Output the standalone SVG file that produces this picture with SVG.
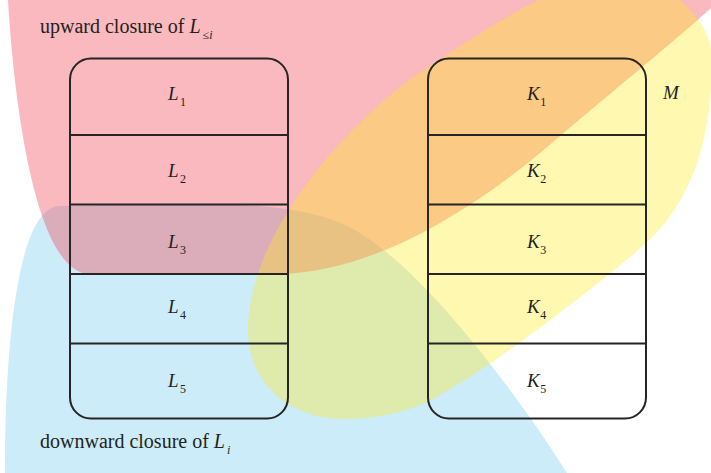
<svg xmlns="http://www.w3.org/2000/svg" width="711" height="473" viewBox="0 0 711 473">
<style>
.box{fill:none;stroke:#262424;stroke-width:2}
.sep{stroke:#262424;stroke-width:2}
.t{font-family:"Liberation Serif",serif;fill:#231f20}
.lab{font-size:19px;font-style:italic}
.sub{font-size:12px;font-style:normal}
.cap{font-size:20px}
.it{font-style:italic}
</style>
<rect width="711" height="473" fill="#ffffff"/>
<g id="regions">
<path id="downward" d="M 5,480 L 5,473 C 5,330 20,206 60,206 C 150,205 280,196 340,223 C 410,250 515,390 567,473 L 572,480 Z" fill="#cdecf9"/>
<path id="upward" d="M 8,-5 L 8,0 C 14,100 35,274 90,274 L 280,274 C 370,272 470,215 560,136 C 620,85 670,45 711,8 L 716,4 L 716,-5 Z" fill="#f0505c" fill-opacity="0.4"/>
<path id="M-region" d="M 248,330 C 248,230 355,114 428,67 C 488,28 560,-22 615,-22 C 665,-22 712,15 712,60 C 712,140 691,203 646,243 C 606,279 487,372 427,402 C 407,412 375,419 345,419 C 285,419 248,380 248,330 Z" fill="#ffeb1d" fill-opacity="0.35"/>
</g>
<g id="L-stack">
<rect class="box" x="70" y="58.5" width="218" height="360" rx="21"/>
<line class="sep" x1="70" y1="135" x2="288" y2="135"/>
<line class="sep" x1="70" y1="204.5" x2="288" y2="204.5"/>
<line class="sep" x1="70" y1="274" x2="288" y2="274"/>
<line class="sep" x1="70" y1="343.5" x2="288" y2="343.5"/>
<text class="t lab" x="168" y="99.5">L<tspan class="sub" dx="1.5" dy="6">1</tspan></text>
<text class="t lab" x="168" y="176.5">L<tspan class="sub" dx="1.5" dy="6">2</tspan></text>
<text class="t lab" x="168" y="248.3">L<tspan class="sub" dx="1.5" dy="6">3</tspan></text>
<text class="t lab" x="168" y="313.3">L<tspan class="sub" dx="1.5" dy="6">4</tspan></text>
<text class="t lab" x="168" y="386.7">L<tspan class="sub" dx="1.5" dy="6">5</tspan></text>
</g>
<g id="K-stack">
<rect class="box" x="428" y="58.5" width="218" height="360" rx="21"/>
<line class="sep" x1="428" y1="135" x2="646" y2="135"/>
<line class="sep" x1="428" y1="204.5" x2="646" y2="204.5"/>
<line class="sep" x1="428" y1="274" x2="646" y2="274"/>
<line class="sep" x1="428" y1="343.5" x2="646" y2="343.5"/>
<text class="t lab" x="527" y="99.5">K<tspan class="sub" dx="0.5" dy="6">1</tspan></text>
<text class="t lab" x="527" y="176.5">K<tspan class="sub" dx="0.5" dy="6">2</tspan></text>
<text class="t lab" x="527" y="248.3">K<tspan class="sub" dx="0.5" dy="6">3</tspan></text>
<text class="t lab" x="527" y="313.3">K<tspan class="sub" dx="0.5" dy="6">4</tspan></text>
<text class="t lab" x="527" y="386.7">K<tspan class="sub" dx="0.5" dy="6">5</tspan></text>
</g>
<g id="labels">
<text class="t lab" x="663" y="99">M</text>
<text class="t cap" x="40" y="33">upward closure of <tspan class="it">L</tspan><tspan class="sub" dx="2" dy="6">≤<tspan class="it">i</tspan></tspan></text>
<text class="t cap" x="40" y="448">downward closure of <tspan class="it">L</tspan><tspan class="sub it" dx="2" dy="6">i</tspan></text>
</g>
<g id="connectors"/>
</svg>
